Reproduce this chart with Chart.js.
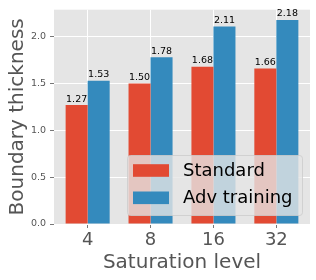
<!DOCTYPE html>
<html>
<head>
<meta charset="utf-8">
<script src="https://cdn.jsdelivr.net/npm/chart.js@4.4.0/dist/chart.umd.min.js"></script>
<style>
  html, body { margin: 0; padding: 0; background: #fff; }
</style>
</head>
<body>
<canvas id="chart" width="316" height="280"></canvas>
<script>
const categories = ['4', '8', '16', '32'];
const seriesNames = ['Standard', 'Adv training'];
const standardVals = [1.27, 1.50, 1.68, 1.66];
const advVals = [1.53, 1.78, 2.11, 2.18];
const yTicks = [0, 0.5, 1.0, 1.5, 2.0];

const FONT = '"DejaVu Sans", sans-serif';
const GREY = '#555555';

// grey panel behind everything (ggplot look)
const plotBg = {
  id: 'plotBg',
  beforeDraw(chart) {
    const { ctx, chartArea: a } = chart;
    ctx.save();
    ctx.fillStyle = '#E5E5E5';
    ctx.fillRect(a.left, a.top, a.right - a.left, a.bottom - a.top);
    ctx.restore();
  }
};

// value printed on top of every bar
const barLabels = {
  id: 'barLabels',
  afterDatasetsDraw(chart) {
    const { ctx } = chart;
    ctx.save();
    ctx.font = '9.5px ' + FONT;
    ctx.fillStyle = '#000';
    ctx.textAlign = 'center';
    ctx.textBaseline = 'alphabetic';
    chart.data.datasets.forEach((ds, i) => {
      chart.getDatasetMeta(i).data.forEach((bar, j) => {
        ctx.fillText(ds.data[j].y.toFixed(2), bar.x, bar.y - 3.5);
      });
    });
    ctx.restore();
  }
};

// legend box inside the lower right of the plot
const boxLegend = {
  id: 'boxLegend',
  afterDraw(chart) {
    const { ctx, chartArea: a } = chart;
    const w = 175, h = 60;
    const x = a.right - 8 - w, y = a.bottom - 9 - h;
    ctx.save();
    ctx.beginPath();
    ctx.roundRect(x + 0.5, y + 0.5, w, h, 3);
    ctx.fillStyle = 'rgba(229,229,229,0.8)';
    ctx.fill();
    ctx.strokeStyle = 'rgba(204,204,204,0.8)';
    ctx.lineWidth = 1;
    ctx.stroke();
    ctx.font = '18px ' + FONT;
    ctx.textBaseline = 'middle';
    chart.data.datasets.forEach((ds, i) => {
      const cy = y + 15.5 + i * 27.3;
      ctx.fillStyle = ds.backgroundColor;
      ctx.fillRect(x + 6, cy - 6.3, 36, 12.6);
      ctx.fillStyle = '#000';
      ctx.fillText(ds.label, x + 56, cy + 1);
    });
    ctx.restore();
  }
};

new Chart(document.getElementById('chart'), {
  type: 'bar',
  data: {
    datasets: [
      {
        label: seriesNames[0],
        data: categories.map((c, i) => ({ x: i, y: standardVals[i] })),
        backgroundColor: '#E24A33'
      },
      {
        label: seriesNames[1],
        data: categories.map((c, i) => ({ x: i, y: advVals[i] })),
        backgroundColor: '#348ABD'
      }
    ]
  },
  options: {
    responsive: false,
    animation: false,
    categoryPercentage: 0.7,
    barPercentage: 1.0,
    layout: { padding: { top: 9, right: 6, left: 0, bottom: 0 } },
    plugins: { legend: { display: false }, tooltip: { enabled: false } },
    scales: {
      x: {
        type: 'linear',
        min: -0.535,
        max: 3.535,
        offset: false,
        afterBuildTicks: axis => { axis.ticks = categories.map((c, i) => ({ value: i })); },
        afterFit: axis => { axis.height = 56; },
        grid: { offset: false, color: '#fff', lineWidth: 1, tickColor: GREY, tickLength: 4, tickWidth: 0.8 },
        border: { display: false },
        ticks: {
          color: GREY, font: { family: FONT, size: 18 }, padding: 2,
          maxRotation: 0, autoSkip: false,
          callback: v => categories[v]
        },
        title: { display: true, text: 'Saturation level', color: GREY, font: { family: FONT, size: 20 }, padding: { top: 0, bottom: 5 } }
      },
      y: {
        min: 0,
        max: 2.289,
        afterBuildTicks: axis => { axis.ticks = yTicks.map(v => ({ value: v })); },
        afterFit: axis => { axis.width = 54; },
        grid: { color: '#fff', lineWidth: 1, tickColor: GREY, tickLength: 4, tickWidth: 0.8 },
        border: { display: false },
        ticks: { color: GREY, font: { family: FONT, size: 9.5 }, padding: 4, callback: v => v.toFixed(1) },
        title: { display: true, text: 'Boundary thickness', color: GREY, font: { family: FONT, size: 20 }, padding: { top: 6, bottom: 0 } }
      }
    }
  },
  plugins: [plotBg, barLabels, boxLegend]
});
</script>
</body>
</html>
